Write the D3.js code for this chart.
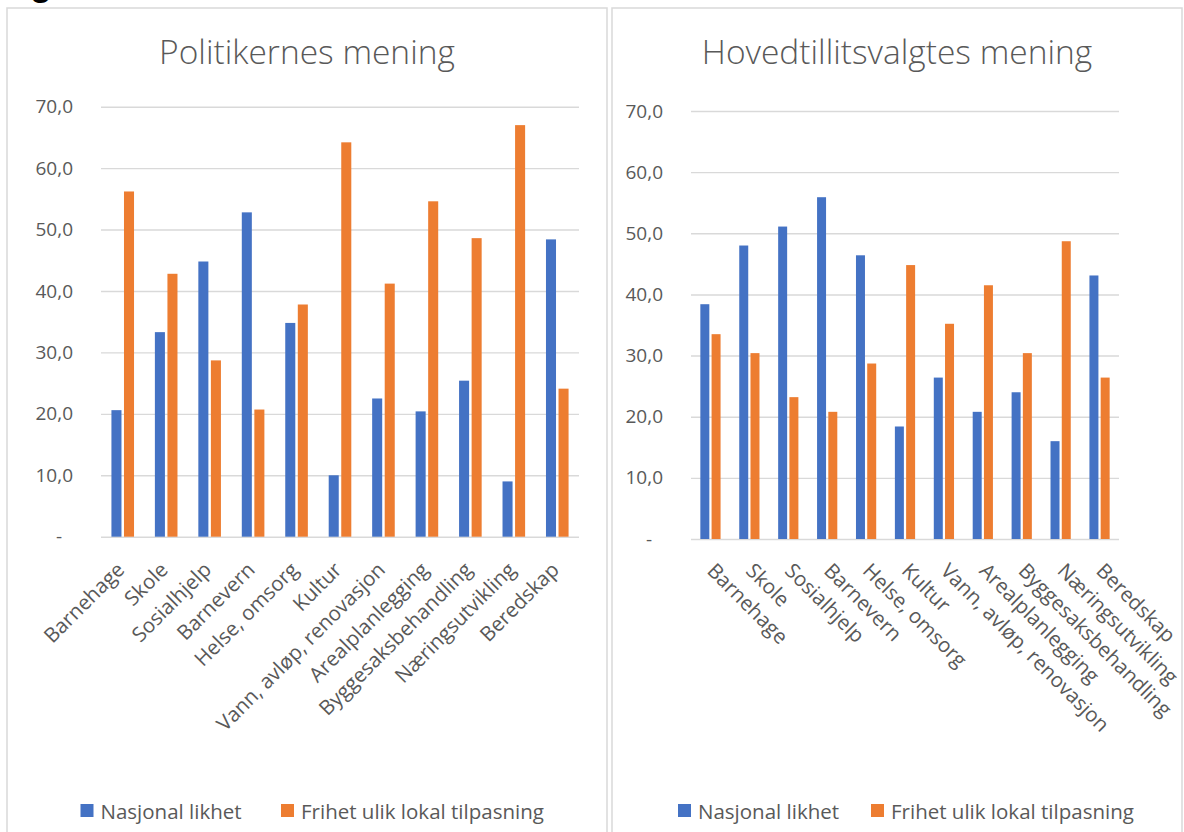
<!DOCTYPE html>
<html>
<head>
<meta charset="utf-8">
<script src="https://cdn.jsdelivr.net/npm/d3@7"></script>
<style>
  html, body { margin: 0; padding: 0; background: #ffffff; }
  svg { display: block; }
  text { font-family: "Open Sans", "Noto Sans", sans-serif; fill: #595959; }
</style>
</head>
<body>
<svg id="chart" width="1184" height="832"></svg>
<script>
// ---------- data ----------
const categories = ["Barnehage", "Skole", "Sosialhjelp", "Barnevern", "Helse, omsorg", "Kultur",
  "Vann, avløp, renovasjon", "Arealplanlegging", "Byggesaksbehandling", "Næringsutvikling", "Beredskap"];
const seriesNames = ["Nasjonal likhet", "Frihet ulik lokal tilpasning"];
const seriesColors = ["#4472C4", "#ED7D31"];
const yTicks = [0, 10, 20, 30, 40, 50, 60, 70];

const politikereNasjonal = [20.6, 33.3, 44.8, 52.8, 34.8, 10.0, 22.5, 20.4, 25.4, 9.0, 48.4];
const politikereFrihet   = [56.2, 42.8, 28.7, 20.7, 37.8, 64.2, 41.2, 54.6, 48.6, 67.0, 24.1];
const tillitsNasjonal    = [38.4, 48.0, 51.1, 55.9, 46.4, 18.4, 26.4, 20.8, 24.0, 16.0, 43.1];
const tillitsFrihet      = [33.5, 30.4, 23.2, 20.8, 28.7, 44.8, 35.2, 41.5, 30.4, 48.7, 26.4];

const svg = d3.select("#chart");

// partial heading glyph cropped at top of the page
svg.append("text").attr("x", 30).attr("y", -5)
  .style("font-family", "Liberation Sans, Arial, sans-serif")
  .style("font-weight", "bold").style("font-size", "36px").style("fill", "#000")
  .text("g");

function panel(cfg) {
  const g = svg.append("g");
  // frame
  g.append("rect").attr("x", cfg.px).attr("y", cfg.py).attr("width", cfg.pw).attr("height", 900)
    .attr("fill", "#fff").attr("stroke", "#d9d9d9").attr("stroke-width", 1.5);
  // title
  g.append("text").attr("x", cfg.px + cfg.pw / 2).attr("y", cfg.titleY)
    .attr("text-anchor", "middle").style("font-size", "33.5px").style("font-weight", 300)
    .text(cfg.title);

  const x0 = d3.scaleBand().domain(categories).range([cfg.x0, cfg.x1])
    .paddingInner(0.48).paddingOuter(0.24);
  const x1 = d3.scaleBand().domain(seriesNames).range([0, x0.bandwidth()]).paddingInner(0.2);
  const y = d3.scaleLinear().domain([0, 70]).range([cfg.yb, cfg.yt]);

  // gridlines + y labels
  const yAxis = d3.axisLeft(y).tickValues(yTicks).tickSize(-(cfg.x1 - cfg.x0)).tickPadding(28)
    .tickFormat(d => d === 0 ? "-" : d3.format(".1f")(d).replace(".", ","));
  const ya = g.append("g").attr("transform", `translate(${cfg.x0},0)`).call(yAxis);
  ya.select(".domain").remove();
  ya.selectAll(".tick line").attr("stroke", "#d9d9d9").attr("stroke-width", 1.4);
  ya.selectAll(".tick text").style("font-size", "19px").style("fill", "#595959")
    .attr("dx", d => d === 0 ? -11 : 0);

  // bars
  const data = categories.map((c, i) => ({ c, vals: [cfg.a[i], cfg.b[i]] }));
  const grp = g.selectAll(".grp").data(data).join("g")
    .attr("transform", d => `translate(${x0(d.c)},0)`);
  grp.selectAll("rect").data(d => d.vals.map((v, k) => ({ v, k }))).join("rect")
    .attr("x", d => x1(seriesNames[d.k]))
    .attr("width", x1.bandwidth())
    .attr("y", d => y(d.v))
    .attr("height", d => y(0) - y(d.v))
    .attr("fill", d => seriesColors[d.k]);

  // category labels
  g.selectAll(".cat").data(categories).join("text")
    .attr("class", "cat")
    .style("font-size", "20.5px")
    .attr("text-anchor", cfg.rot < 0 ? "end" : "start")
    .attr("transform", d => {
      const cx = x0(d) + x0.bandwidth() / 2 + cfg.labDx;
      return `translate(${cx},${cfg.labY}) rotate(${cfg.rot})`;
    })
    .text(d => d);

  // legend
  const lg = g.append("g");
  seriesNames.forEach((s, k) => {
    lg.append("rect").attr("x", cfg.legX[k]).attr("y", 804).attr("width", 13).attr("height", 13)
      .attr("fill", seriesColors[k]);
    lg.append("text").attr("x", cfg.legX[k] + 20).attr("y", 818.5)
      .style("font-size", "20.5px").text(s);
  });
}

panel({ px: 7, py: 8, pw: 600, title: "Politikernes mening", titleY: 64,
  x0: 101, x1: 579, yt: 106.7, yb: 536.7, a: politikereNasjonal, b: politikereFrihet,
  rot: -45, labDx: 3, labY: 571, legX: [80.5, 281] });
panel({ px: 612, py: 8, pw: 570, title: "Hovedtillitsvalgtes mening", titleY: 64,
  x0: 691, x1: 1119, yt: 111, yb: 539, a: tillitsNasjonal, b: tillitsFrihet,
  rot: 45, labDx: -4.5, labY: 572, legX: [678, 871] });
</script>
</body>
</html>
